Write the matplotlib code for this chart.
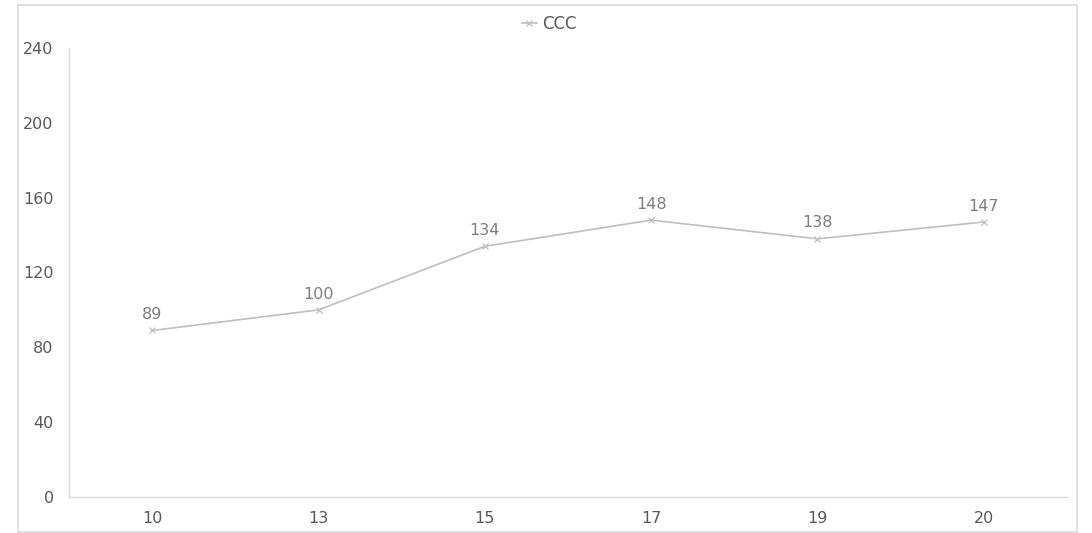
import matplotlib
matplotlib.use("Agg")
import matplotlib.pyplot as plt
from matplotlib.patches import Rectangle

categories = ["10", "13", "15", "17", "19", "20"]
values = [89, 100, 134, 148, 138, 147]
series_name = "CCC"
y_ticks = [0, 40, 80, 120, 160, 200, 240]

plt.rcParams['font.family'] = ['DejaVu Sans']

W, H = 1092, 533
fig = plt.figure(figsize=(W / 100, H / 100), dpi=100)

# chart border
fig.patches.append(Rectangle((18 / W, 1 - 532 / H), (1077 - 18) / W, (532 - 5) / H,
                             transform=fig.transFigure, fill=False,
                             edgecolor="#d9d9d9", linewidth=1.2))

left, right, top, bottom = 69, 1067, 48, 497
ax = fig.add_axes([left / W, 1 - bottom / H, (right - left) / W, (bottom - top) / H])

x = list(range(len(categories)))
line, = ax.plot(x, values, color="#bfbfbf", linewidth=1.2, marker="x",
                markersize=4, markeredgewidth=0.9, label=series_name)
for xi, v in zip(x, values):
    ax.annotate(str(v), (xi, v), xytext=(0, 6), textcoords="offset points",
                ha="center", va="bottom", fontsize=11.5, color="#7f7f7f")

ax.set_xlim(-0.5, len(categories) - 0.5)
ax.set_ylim(0, 240)
ax.set_xticks(x)
ax.set_xticklabels(categories)
ax.set_yticks(y_ticks)
ax.tick_params(axis="both", length=0, labelsize=11.5, colors="#595959")
ax.tick_params(axis="y", pad=11)
ax.tick_params(axis="x", pad=10)
for s in ["top", "right"]:
    ax.spines[s].set_visible(False)
ax.spines["bottom"].set_color("#d9d9d9")
ax.spines["left"].set_color("#d9d9d9")
ax.spines["bottom"].set_linewidth(1.0)
ax.spines["left"].set_linewidth(1.0)

fig.legend(handles=[line], loc="center", bbox_to_anchor=(549 / W, 1 - 24 / H),
           frameon=False, fontsize=12, labelcolor="#595959", handlelength=0.9,
           handletextpad=0.3)

fig.savefig("out.png", dpi=100)
